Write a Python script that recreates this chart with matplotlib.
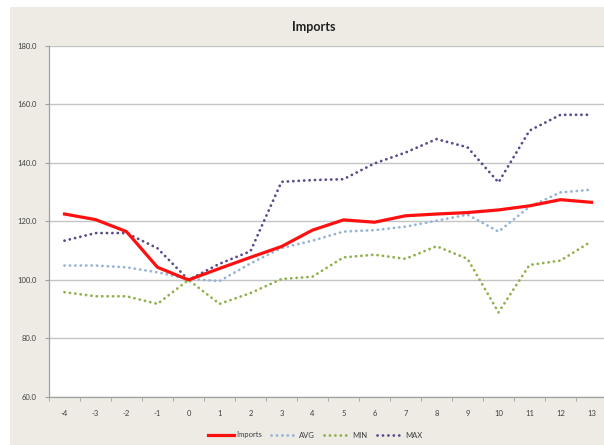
import matplotlib
matplotlib.use("Agg")
import matplotlib.pyplot as plt
from matplotlib.patches import Rectangle
from matplotlib.ticker import FixedLocator, FormatStrFormatter

plt.rcParams['font.family'] = ['Lato', 'DejaVu Sans']

# Quarters relative to the trough
periods = ["-4", "-3", "-2", "-1", "0", "1", "2", "3", "4", "5", "6",
           "7", "8", "9", "10", "11", "12", "13"]

imports = [122.5, 120.6, 116.5, 104.3, 100.0, 103.9, 107.7, 111.4, 117.0,
           120.5, 119.7, 121.9, 122.5, 123.0, 123.9, 125.3, 127.4, 126.5]
avg = [104.9, 104.9, 104.3, 102.6, 100.3, 99.6, 105.6, 110.9, 113.4,
       116.5, 117.0, 118.2, 120.2, 122.3, 116.5, 125.0, 129.9, 130.8]
mn = [95.8, 94.4, 94.4, 91.8, 100.0, 91.8, 95.5, 100.3, 101.1,
      107.7, 108.6, 107.2, 111.5, 107.2, 88.9, 105.1, 106.6, 113.2]
mx = [113.4, 116.0, 116.0, 110.8, 100.0, 105.5, 109.8, 133.5, 134.1,
      134.4, 139.8, 143.5, 148.1, 145.3, 133.3, 151.0, 156.4, 156.4]

W, H = 604, 445
fig = plt.figure(figsize=(W / 100, H / 100), dpi=100)
fig.patch.set_facecolor("white")

# Beige chart area behind the plot
fig.add_artist(Rectangle((10 / W, 0), 1 - 10 / W, 1 - 7 / H,
                         transform=fig.transFigure, facecolor="#EDEBE4",
                         edgecolor="none", zorder=0))

left, right = 49 / W, 607 / W
bottom, top = 1 - 397 / H, 1 - 45.7 / H
ax = fig.add_axes([left, bottom, right - left, top - bottom])
ax.set_facecolor("white")

x = list(range(len(periods)))
dot = (0, (0.05, 1.9))

ax.plot(x, avg, color="#95B3D7", lw=2.0, linestyle=dot,
        dash_capstyle="round", label="AVG", zorder=3)
ax.plot(x, mn, color="#8FB04A", lw=2.0, linestyle=dot,
        dash_capstyle="round", label="MIN", zorder=3)
ax.plot(x, mx, color="#5A4A8C", lw=2.0, linestyle=dot,
        dash_capstyle="round", label="MAX", zorder=3)
ax.plot(x, imports, color="#FF1010", lw=2.3, solid_joinstyle="round",
        label="Imports", zorder=4)

ax.set_xlim(-0.5, len(periods) - 0.5)
ax.set_ylim(60, 180)
ax.set_yticks(range(60, 181, 20))
ax.yaxis.set_major_formatter(FormatStrFormatter("%.1f"))
ax.grid(axis="y", color="#C4C4C4", lw=1.0)
ax.set_axisbelow(True)

ax.set_xticks(x)
ax.set_xticklabels(periods)
ax.xaxis.set_minor_locator(FixedLocator([i - 0.5 for i in range(len(periods) + 1)]))
ax.tick_params(axis="x", which="major", length=0, pad=9, labelsize=5.5,
               labelcolor="#404040")
ax.tick_params(axis="x", which="minor", length=3, color="#A0A0A0", direction="out")
ax.tick_params(axis="y", length=3, color="#A0A0A0", pad=6, labelsize=5.5,
               labelcolor="#404040")

for s in ("top", "right"):
    ax.spines[s].set_visible(False)
for s in ("left", "bottom"):
    ax.spines[s].set_color("#A0A0A0")
    ax.spines[s].set_linewidth(0.9)

fig.text(314 / W, 1 - 27 / H, "Imports", ha="center", va="center",
         fontsize=9, fontweight="bold", color="#202020")

handles, labels = ax.get_legend_handles_labels()
order = [3, 0, 1, 2]
fig.legend([handles[i] for i in order], [labels[i] for i in order],
           loc="center", bbox_to_anchor=(315 / W, 1 - 435 / H), ncol=4,
           frameon=False, fontsize=5.5, handlelength=3.4, handletextpad=0.3,
           columnspacing=1.2, labelcolor="#404040")

fig.savefig("out.png", dpi=100)
